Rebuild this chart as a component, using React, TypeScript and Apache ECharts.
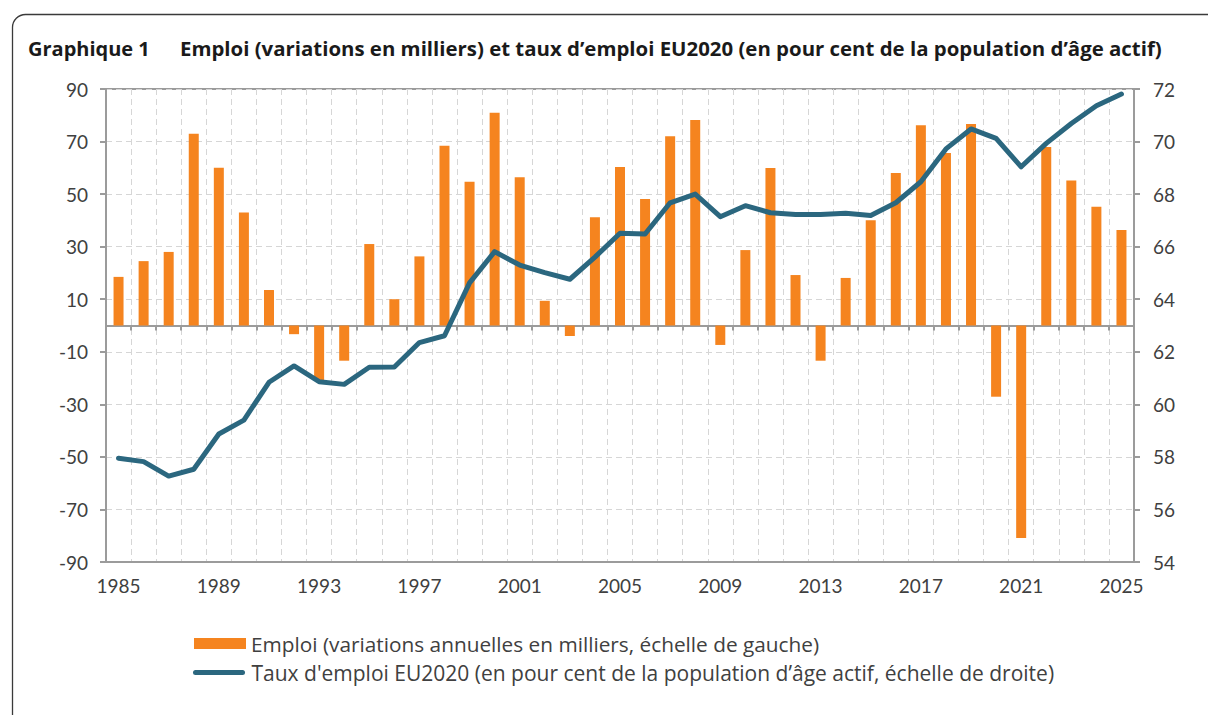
import React, { useEffect, useRef } from "react";
import * as echarts from "echarts";

const years = [
  "1985", "1986", "1987", "1988", "1989", "1990", "1991", "1992", "1993", "1994",
  "1995", "1996", "1997", "1998", "1999", "2000", "2001", "2002", "2003", "2004",
  "2005", "2006", "2007", "2008", "2009", "2010", "2011", "2012", "2013", "2014",
  "2015", "2016", "2017", "2018", "2019", "2020", "2021", "2022", "2023", "2024",
  "2025",
];

// Emploi (variations annuelles en milliers) – left axis
const emploi = [
  18.5, 24.5, 28, 73, 60, 43, 13.5, -3.3, -21, -13.4,
  31, 10, 26.3, 68.4, 54.7, 81, 56.4, 9.4, -4, 41.2,
  60.3, 48.1, 72, 78.2, -7.4, 28.7, 59.9, 19.2, -13.4, 18.1,
  40.1, 58, 76.2, 65.6, 76.7, -27.1, -80.9, 67.9, 55.2, 45.2,
  36.3,
];

// Taux d'emploi EU2020 (%) – right axis
const taux = [
  57.95, 57.82, 57.27, 57.53, 58.87, 59.4, 60.84, 61.46, 60.86, 60.76,
  61.41, 61.42, 62.35, 62.61, 64.62, 65.81, 65.3, 65.01, 64.76, 65.6,
  66.51, 66.48, 67.67, 68.0, 67.14, 67.56, 67.29, 67.22, 67.22, 67.27,
  67.19, 67.67, 68.47, 69.72, 70.48, 70.12, 69.04, 69.93, 70.69, 71.36,
  71.81,
];

const titleLabel = "Graphique 1";
const titleText =
  "Emploi (variations en milliers) et taux d\u2019emploi EU2020 (en pour cent de la population d\u2019\u00e2ge actif)";
const barName = "Emploi (variations annuelles en milliers, \u00e9chelle de gauche)";
const lineName =
  "Taux d'emploi EU2020 (en pour cent de la population d\u2019\u00e2ge actif, \u00e9chelle de droite)";

const FONT = "Lato, 'Noto Sans', sans-serif";
const FONT2 = "'Open Sans', 'Noto Sans', sans-serif";
const AXIS_GREY = "#9b9b9b";
const GRID_GREY = "#d6d6d6";
const TEXT_GREY = "#404040";
const ORANGE = "#F5841F";
const BLUE = "#2B677F";

export default function App() {
  const ref = useRef<HTMLDivElement>(null);

  useEffect(() => {
    if (!ref.current) return;
    const chart = echarts.init(ref.current, undefined, { renderer: "svg" });
    const option: any = {
      animation: false,
      textStyle: { fontFamily: FONT },
      graphic: [
        {
          type: "rect",
          silent: true,
          shape: { x: 12.5, y: 14.5, width: 1300, height: 800, r: 13 },
          style: { fill: "none", stroke: "#3a3a3a", lineWidth: 1.3 },
        },
        {
          type: "text",
          x: 28,
          y: 48,
          style: {
            text: titleLabel,
            fontFamily: FONT2,
            fontWeight: "bold",
            fontSize: 20,
            fill: "#1a1a1a",
            verticalAlign: "middle",
          },
        },
        {
          type: "text",
          x: 180,
          y: 48,
          style: {
            text: titleText,
            fontFamily: FONT2,
            fontWeight: "bold",
            fontSize: 20.4,
            fill: "#1a1a1a",
            verticalAlign: "middle",
          },
        },
      ],
      grid: {
        left: 106,
        right: 74,
        top: 89,
        bottom: 153,
        show: true,
        borderColor: AXIS_GREY,
        borderWidth: 2,
        containLabel: false,
      },
      legend: [
        {
          data: [{ name: barName, icon: "rect" }],
          left: 194,
          top: 633,
          padding: 0,
          itemWidth: 52,
          itemHeight: 11,
          textStyle: { fontFamily: FONT2, fontSize: 20.8, color: TEXT_GREY },
          selectedMode: false,
        },
        {
          data: [
            {
              name: lineName,
              icon: "path://M2.5,0 L49.5,0 A2.5,2.5 0 0 1 49.5,5 L2.5,5 A2.5,2.5 0 0 1 2.5,0 Z",
            },
          ],
          left: 193,
          top: 662,
          padding: 0,
          itemWidth: 55,
          itemHeight: 5,
          textStyle: { fontFamily: FONT2, fontSize: 21, color: TEXT_GREY },
          selectedMode: false,
        },
      ],
      xAxis: [
        {
          type: "category",
          data: years,
          position: "bottom",
          boundaryGap: true,
          axisLine: { onZero: false, lineStyle: { color: AXIS_GREY, width: 2 } },
          axisTick: { show: false },
          axisLabel: {
            interval: 3,
            fontFamily: FONT,
            fontSize: 19,
            color: TEXT_GREY,
            margin: 14,
          },
          splitLine: {
            show: true,
            interval: 0,
            lineStyle: { color: GRID_GREY, type: [6, 4], width: 1 },
          },
        },
        {
          type: "category",
          data: years,
          position: "bottom",
          boundaryGap: true,
          axisLine: {
            show: true,
            onZero: true,
            onZeroAxisIndex: 0,
            lineStyle: { color: AXIS_GREY, width: 2 },
          },
          axisTick: {
            show: true,
            interval: 0,
            length: 5,
            lineStyle: { color: AXIS_GREY, width: 2 },
          },
          axisLabel: { show: false },
          splitLine: { show: false },
        },
      ],
      yAxis: [
        {
          type: "value",
          position: "left",
          min: -90,
          max: 90,
          interval: 20,
          axisLine: { show: true, onZero: false, lineStyle: { color: AXIS_GREY, width: 2 } },
          axisTick: { show: true, length: 6, lineStyle: { color: AXIS_GREY, width: 2 } },
          axisLabel: { fontFamily: FONT, fontSize: 19, color: TEXT_GREY, margin: 18 },
          splitLine: {
            show: true,
            lineStyle: { color: GRID_GREY, type: [6, 4], width: 1 },
          },
        },
        {
          type: "value",
          position: "right",
          min: 54,
          max: 72,
          interval: 2,
          axisLine: { show: true, onZero: false, lineStyle: { color: AXIS_GREY, width: 2 } },
          axisTick: { show: true, length: 6, lineStyle: { color: AXIS_GREY, width: 2 } },
          axisLabel: { fontFamily: FONT, fontSize: 19, color: TEXT_GREY, margin: 19 },
          splitLine: { show: false },
        },
      ],
      series: [
        {
          name: barName,
          type: "bar",
          xAxisIndex: 0,
          yAxisIndex: 0,
          data: emploi,
          barWidth: 10,
          itemStyle: { color: ORANGE },
          z: 2,
        },
        {
          name: lineName,
          type: "line",
          xAxisIndex: 0,
          yAxisIndex: 1,
          data: taux,
          symbol: "none",
          lineStyle: { color: BLUE, width: 5, cap: "round", join: "round" },
          itemStyle: { color: BLUE },
          z: 5,
        },
      ],
    };
    chart.setOption(option);
    return () => chart.dispose();
  }, []);

  return (
    <div
      ref={ref}
      style={{ position: "absolute", left: 0, top: 0, width: 1208, height: 715, background: "#fff" }}
    />
  );
}
